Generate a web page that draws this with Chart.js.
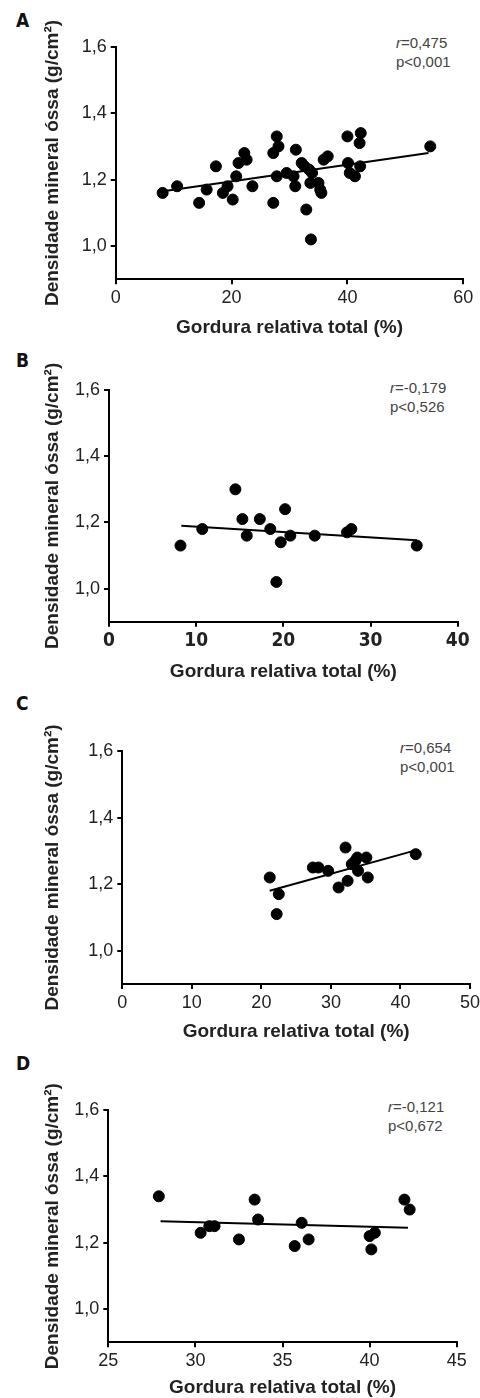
<!DOCTYPE html>
<html>
<head>
<meta charset="utf-8">
<script src="https://cdn.jsdelivr.net/npm/chart.js@4.4.1/dist/chart.umd.min.js"></script>
<style>
  body { margin: 0; background: #fff; }
  #wrap { position: relative; width: 480px; height: 1398px; overflow: hidden; }
  canvas { position: absolute; left: 0; }
  .letra { position: absolute; left: 16px; font-family: "Liberation Sans Narrow", "DejaVu Sans Condensed", sans-serif; font-weight: bold; font-size: 19px; color: #111; line-height: 1; }
  .nota { position: absolute; font-family: "Liberation Sans", Arial, sans-serif; font-size: 15px; color: #444; line-height: 19px; }
</style>
</head>
<body>
<div id="wrap">
  <div class="letra" style="top:11px">A</div>
  <div class="letra" style="top:351px">B</div>
  <div class="letra" style="top:694px">C</div>
  <div class="letra" style="top:1054px">D</div>

  <div class="nota" style="left:396px;top:33px"><i>r</i>=0,475<br>p&lt;0,001</div>
  <div class="nota" style="left:390px;top:378px"><i>r</i>=-0,179<br>p&lt;0,526</div>
  <div class="nota" style="left:400px;top:738px"><i>r</i>=0,654<br>p&lt;0,001</div>
  <div class="nota" style="left:388px;top:1097px"><i>r</i>=-0,121<br>p&lt;0,672</div>

  <canvas id="graficoA" width="480" height="345" style="top:0px"></canvas>
  <canvas id="graficoB" width="480" height="340" style="top:345px"></canvas>
  <canvas id="graficoC" width="480" height="360" style="top:685px"></canvas>
  <canvas id="graficoD" width="480" height="353" style="top:1045px"></canvas>
</div>

<script>
// Eixo Y comum
const yTicks = [1.0, 1.2, 1.4, 1.6];
const yMin = 0.9, yMax = 1.6;
const tituloY = 'Densidade mineral óssa (g/cm²)';
const tituloX = 'Gordura relativa total (%)';

// Painel A
const xA = [8.1, 10.6, 14.4, 15.7, 17.3, 18.5, 19.3, 20.2, 20.8, 21.2, 22.2, 22.6, 23.6, 27.2, 27.2, 27.8, 28.1, 27.8, 29.5, 30.7, 31.1, 31.0, 32.1, 32.6, 32.9, 33.4, 33.9, 33.6, 33.7, 35.0, 35.3, 35.5, 35.9, 36.6, 40.0, 40.1, 40.4, 41.3, 42.1, 42.3, 42.2, 54.3];
const yA = [1.16, 1.18, 1.13, 1.17, 1.24, 1.16, 1.18, 1.14, 1.21, 1.25, 1.28, 1.26, 1.18, 1.13, 1.28, 1.33, 1.30, 1.21, 1.22, 1.21, 1.29, 1.18, 1.25, 1.24, 1.11, 1.23, 1.22, 1.19, 1.02, 1.19, 1.17, 1.16, 1.26, 1.27, 1.33, 1.25, 1.22, 1.21, 1.31, 1.34, 1.24, 1.30];
const retaXA = [8.2, 54.0];
const retaYA = [1.165, 1.28];
const xTicksA = [0, 20, 40, 60];

// Painel B
const xB = [8.2, 10.7, 14.5, 15.3, 15.8, 17.3, 18.5, 19.7, 19.2, 20.2, 20.8, 23.6, 27.3, 27.8, 35.3];
const yB = [1.13, 1.18, 1.30, 1.21, 1.16, 1.21, 1.18, 1.14, 1.02, 1.24, 1.16, 1.16, 1.17, 1.18, 1.13];
const retaXB = [8.3, 35.3];
const retaYB = [1.19, 1.146];
const xTicksB = [0, 10, 20, 30, 40];

// Painel C
const xC = [21.2, 22.5, 22.2, 27.4, 28.2, 29.6, 31.1, 32.1, 32.4, 33.0, 33.5, 33.8, 33.9, 35.1, 35.3, 42.2];
const yC = [1.22, 1.17, 1.11, 1.25, 1.25, 1.24, 1.19, 1.31, 1.21, 1.26, 1.27, 1.28, 1.24, 1.28, 1.22, 1.29];
const retaXC = [21.2, 41.9];
const retaYC = [1.18, 1.30];
const xTicksC = [0, 10, 20, 30, 40, 50];

// Painel D
const xD = [27.9, 30.3, 30.8, 31.1, 32.5, 33.4, 33.6, 35.7, 36.1, 36.5, 40.0, 40.3, 40.1, 42.0, 42.3];
const yD = [1.34, 1.23, 1.25, 1.25, 1.21, 1.33, 1.27, 1.19, 1.26, 1.21, 1.22, 1.23, 1.18, 1.33, 1.30];
const retaXD = [28.0, 42.2];
const retaYD = [1.265, 1.245];
const xTicksD = [25, 30, 35, 40, 45];

function pares(xs, ys) {
  return xs.map((x, i) => ({ x: x, y: ys[i] }));
}

// cfg: posicao da area do grafico em coordenadas do canvas
function criarGrafico(id, xs, ys, rx, ry, xTicks, cfg) {
  const ctx = document.getElementById(id).getContext('2d');
  const canvasH = ctx.canvas.height;
  return new Chart(ctx, {
    type: 'scatter',
    data: {
      datasets: [
        {
          data: pares(xs, ys),
          backgroundColor: '#000',
          borderColor: '#000',
          pointRadius: 5.5,
          pointHoverRadius: 5.5
        },
        {
          type: 'line',
          data: pares(rx, ry),
          borderColor: '#000',
          borderWidth: 2,
          pointRadius: 0,
          fill: false
        }
      ]
    },
    options: {
      responsive: false,
      animation: false,
      clip: false,
      layout: { padding: { left: 0, right: 480 - cfg.right, top: cfg.top, bottom: 0 } },
      plugins: { legend: { display: false }, tooltip: { enabled: false } },
      scales: {
        x: {
          type: 'linear',
          min: xTicks[0],
          max: xTicks[xTicks.length - 1],
          afterBuildTicks: s => { s.ticks = xTicks.map(v => ({ value: v })); },
          afterFit: s => { s.height = canvasH - cfg.bottom; s.paddingLeft = 0; s.paddingRight = 0; },
          grid: { drawOnChartArea: false, drawTicks: true, tickLength: 5, color: '#000', lineWidth: 2 },
          border: { display: true, color: '#000', width: 2 },
          ticks: {
            color: '#222',
            padding: 3,
            maxRotation: 0,
            font: cfg.xBold
              ? { family: '"Liberation Sans Narrow", "DejaVu Sans Condensed", sans-serif', size: 19, weight: 'bold' }
              : { family: '"Liberation Sans", Arial, sans-serif', size: 18 },
            callback: v => String(v)
          },
          title: {
            display: true,
            text: tituloX,
            color: '#222',
            padding: { top: 0, bottom: cfg.xTitlePad },
            font: { family: '"Liberation Sans", Arial, sans-serif', size: 19, weight: 'bold', lineHeight: 1 }
          }
        },
        y: {
          type: 'linear',
          min: yMin,
          max: yMax,
          afterBuildTicks: s => { s.ticks = yTicks.map(v => ({ value: v })); },
          afterFit: s => { s.width = cfg.left; s.paddingTop = 0; s.paddingBottom = 0; },
          grid: { drawOnChartArea: false, drawTicks: true, tickLength: 5, color: '#000', lineWidth: 2 },
          border: { display: true, color: '#000', width: 2 },
          ticks: {
            color: '#222',
            padding: 4,
            font: { family: '"Liberation Sans", Arial, sans-serif', size: 18 },
            callback: v => v.toFixed(1).replace('.', ',')
          },
          title: {
            display: true,
            text: tituloY,
            color: '#222',
            padding: { top: 43.5, bottom: 0 },
            font: { family: '"Liberation Sans", Arial, sans-serif', size: 19, weight: 'bold', lineHeight: 1 }
          }
        }
      }
    }
  });
}

// Inicializar os quatro paineis
criarGrafico('graficoA', xA, yA, retaXA, retaYA, xTicksA,
  { left: 115.7, right: 463.3, top: 46.7, bottom: 279.3, xTitlePad: 345 - 328 - 9.5 });
criarGrafico('graficoB', xB, yB, retaXB, retaYB, xTicksB,
  { left: 109, right: 457.7, top: 390 - 345, bottom: 621.7 - 345, xTitlePad: 685 - 671.7 - 9.5, xBold: true });
criarGrafico('graficoC', xC, yC, retaXC, retaYC, xTicksC,
  { left: 122.3, right: 470, top: 751 - 685, bottom: 984 - 685, xTitlePad: 1045 - 1032 - 9.5 });
criarGrafico('graficoD', xD, yD, retaXD, retaYD, xTicksD,
  { left: 108.3, right: 456.7, top: 1110 - 1045, bottom: 1342.3 - 1045, xTitlePad: 1398 - 1388 - 9.5 });
</script>
</body>
</html>
